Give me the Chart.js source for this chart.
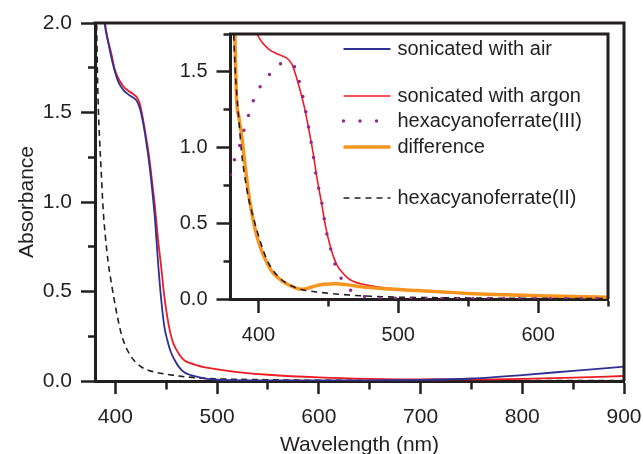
<!DOCTYPE html>
<html>
<head>
<meta charset="utf-8">
<script src="https://cdn.jsdelivr.net/npm/chart.js@4.4.1/dist/chart.umd.min.js"></script>
<style>
    body { margin: 0; background: #fff; }
    #wrap { position: relative; width: 643px; height: 454px; overflow: hidden; }
    #main { position: absolute; left: 0; top: 0; }
    #inset { position: absolute; left: 150px; top: 19px; }
</style>
</head>
<body>
<div id="wrap">
    <canvas id="main" width="643" height="454"></canvas>
    <canvas id="inset" width="480" height="330"></canvas>
</div>
<script>
// spectra (wavelength nm / absorbance)
const airWl = [386, 389.5, 393, 396, 399, 403, 408, 413, 417, 421, 424, 427, 430, 433, 436, 439, 442, 445, 448, 451, 454, 458, 463, 468, 474, 480, 490, 500, 550, 600, 650, 700, 750, 800, 850, 900];
const airAbs = [2.25, 2.0, 1.89, 1.81, 1.74, 1.67, 1.625, 1.6, 1.585, 1.565, 1.525, 1.45, 1.35, 1.23, 1.08, 0.9, 0.66, 0.46, 0.31, 0.23, 0.17, 0.12, 0.075, 0.048, 0.033, 0.024, 0.012, 0.007, 0.003, 0.003, 0.004, 0.006, 0.014, 0.033, 0.057, 0.08];

const argonWl = [386, 389.8, 393, 396.4, 399, 403, 408, 413, 417, 421, 424, 427, 430, 433, 436, 439, 442, 445, 448, 451, 454, 457, 460, 464, 468, 473, 480, 487, 500, 520, 550, 600, 650, 700, 750, 800, 850, 900];
const argonAbs = [2.25, 2.0, 1.9, 1.82, 1.75, 1.69, 1.645, 1.62, 1.605, 1.585, 1.55, 1.47, 1.37, 1.26, 1.12, 0.97, 0.79, 0.64, 0.48, 0.36, 0.27, 0.21, 0.175, 0.138, 0.115, 0.101, 0.088, 0.077, 0.065, 0.05, 0.035, 0.02, 0.012, 0.009, 0.009, 0.012, 0.019, 0.028];

const ferroWl = [380, 381.6, 382.3, 383.3, 384.5, 386, 388, 390, 393, 396, 399, 402, 406, 410, 415, 420, 426, 433, 440, 450, 465, 480, 500, 550, 600, 700, 800, 900];
const ferroAbs = [2.4, 2.0, 1.75, 1.52, 1.35, 1.18, 0.96, 0.82, 0.66, 0.55, 0.45, 0.36, 0.26, 0.195, 0.14, 0.105, 0.077, 0.058, 0.048, 0.038, 0.026, 0.018, 0.012, 0.007, 0.004, 0.003, 0.003, 0.003];

const ferriWl = [380, 382, 386, 389, 392.2, 395.7, 400.3, 404, 407.7, 412, 416, 420, 424.8, 427, 428.8, 431.4, 433.6, 435.7, 437.6, 439.3, 441, 443, 445.3, 447, 448.8, 451.7, 454.8, 459.6, 467.4, 478.6, 490, 520, 650];
const ferriAbs = [0.82, 0.896, 0.997, 1.094, 1.19, 1.295, 1.387, 1.44, 1.48, 1.525, 1.554, 1.56, 1.545, 1.51, 1.45, 1.354, 1.25, 1.145, 1.04, 0.94, 0.83, 0.735, 0.636, 0.533, 0.434, 0.328, 0.229, 0.13, 0.046, 0.013, 0.006, 0.004, 0.004];

const diffWl = [383, 384.3, 386, 388, 390, 392.6, 395, 397.4, 401, 404.5, 409, 414, 420, 426, 431, 435, 440, 447, 455, 463, 474, 490, 514, 550, 600, 650];
const diffAbs = [1.8, 1.33, 1.2, 1.08, 0.92, 0.72, 0.58, 0.47, 0.35, 0.27, 0.19, 0.14, 0.1, 0.075, 0.064, 0.07, 0.085, 0.097, 0.101, 0.095, 0.08, 0.068, 0.056, 0.037, 0.022, 0.012];

// tick positions: every value gets a tick mark, the listed majors get a label
const mainXTicks = [400, 450, 500, 550, 600, 650, 700, 750, 800, 850, 900];
const mainXLabels = [400, 500, 600, 700, 800, 900];
const mainYLabels = [0, 0.5, 1.0, 1.5, 2.0];
const insetXTicks = [400, 450, 500, 550, 600, 650];
const insetXLabels = [400, 500, 600];
const insetYLabels = [0, 0.5, 1.0, 1.5];

const labelAir = 'sonicated with air';
const labelArgon = 'sonicated with argon';
const labelFerri = 'hexacyanoferrate(III)';
const labelDiff = 'difference';
const labelFerro = 'hexacyanoferrate(II)';

const ink = '#231f20';
const airColor = '#2e3192';
const argonColor = '#ed1c24';
const ferriColor = '#92278f';
const diffColor = '#f7941d';
const font = "'Liberation Sans', Arial, sans-serif";

const pts = (xs, ys) => xs.map((x, i) => ({ x: x, y: ys[i] }));
const isMajor = (v, list) => list.some(t => Math.abs(t - v) < 1e-6);

function frame(id) {
    return {
        id: id,
        afterDraw(chart) {
            const a = chart.chartArea;
            const ctx = chart.ctx;
            ctx.save();
            ctx.strokeStyle = ink;
            ctx.lineWidth = 3;
            ctx.beginPath();
            ctx.moveTo(a.left - 1.5, a.top);
            ctx.lineTo(a.right, a.top);
            ctx.lineTo(a.right, a.bottom);
            ctx.stroke();
            ctx.restore();
        }
    };
}

function axisX(min, max, tickVals, majors, fontSize, height, tickLen, minorLen, pad, title) {
    return {
        type: 'linear', min: min, max: max,
        afterBuildTicks: axis => { axis.ticks = tickVals.map(v => ({ value: v })); },
        afterFit: scale => { scale.height = height; scale.paddingLeft = 0; scale.paddingRight = 0; },
        border: { display: true, color: ink, width: 3 },
        grid: {
            drawOnChartArea: false, drawTicks: true, tickLength: tickLen, tickWidth: 2.5, tickColor: ink,
            tickBorderDash: ctx => (ctx.tick && isMajor(ctx.tick.value, majors)) ? [] : [minorLen, 100]
        },
        ticks: {
            autoSkip: false, maxRotation: 0, padding: pad, color: ink,
            font: { family: font, size: fontSize, lineHeight: 1.2 },
            callback: v => isMajor(v, majors) ? String(v) : ''
        },
        title: title ? {
            display: true, text: title, color: ink,
            font: { family: font, size: fontSize, lineHeight: 1.2 },
            padding: { top: 0, bottom: -4 }
        } : { display: false }
    };
}

function axisY(max, majors, fontSize, width, tickLen, minorLen, pad, title) {
    return {
        type: 'linear', min: 0, max: max,
        afterFit: scale => { scale.width = width; scale.paddingTop = 0; scale.paddingBottom = 0; },
        border: { display: true, color: ink, width: 3 },
        grid: {
            drawOnChartArea: false, drawTicks: true, tickLength: tickLen, tickWidth: 2.5, tickColor: ink,
            tickBorderDash: ctx => (ctx.tick && isMajor(ctx.tick.value, majors)) ? [] : [0, tickLen - minorLen, minorLen + 2, 100]
        },
        ticks: {
            stepSize: 0.25, autoSkip: false, padding: pad, color: ink,
            font: { family: font, size: fontSize, lineHeight: 1.2 },
            callback: v => isMajor(v, majors) ? v.toFixed(1) : ''
        },
        title: title ? {
            display: true, text: title, color: ink,
            font: { family: font, size: fontSize, lineHeight: 1.2 },
            padding: { top: 15, bottom: 0 }
        } : { display: false }
    };
}

const lineBase = { pointRadius: 0, cubicInterpolationMode: 'monotone', fill: false };

new Chart(document.getElementById('main'), {
    type: 'line',
    data: {
        datasets: [
            Object.assign({ label: labelAir, data: pts(airWl, airAbs), borderColor: airColor, borderWidth: 1.8 }, lineBase),
            Object.assign({ label: labelArgon, data: pts(argonWl, argonAbs), borderColor: argonColor, borderWidth: 1.8 }, lineBase),
            Object.assign({ label: labelFerro, data: pts(ferroWl, ferroAbs), borderColor: ink, borderWidth: 1.6, borderDash: [6, 4.5] }, lineBase)
        ]
    },
    options: {
        responsive: false,
        animation: false,
        layout: { padding: { left: 0, top: 23, right: 19, bottom: 0 } },
        plugins: { legend: { display: false }, tooltip: { enabled: false } },
        scales: {
            x: axisX(380, 900, mainXTicks, mainXLabels, 21, 73, 13, 6.5, 11, 'Wavelength (nm)'),
            y: axisY(2, mainYLabels, 21, 95, 14, 7, 9, 'Absorbance')
        }
    },
    plugins: [frame('mainFrame')]
});

const insetLegend = [
    { text: labelAir, color: airColor, width: 2, dash: [], cap: 'butt', dy: 15 },
    { text: labelArgon, color: argonColor, width: 1.6, dash: [], cap: 'butt', dy: 62 },
    { text: labelFerri, color: ferriColor, width: 3.5, dash: [0, 16.5], cap: 'round', dy: 87 },
    { text: labelDiff, color: diffColor, width: 3.5, dash: [], cap: 'butt', dy: 113 },
    { text: labelFerro, color: ink, width: 1.6, dash: [6, 5], cap: 'butt', dy: 164 }
];

const legendPlugin = {
    id: 'insetLegend',
    afterDraw(chart) {
        const a = chart.chartArea;
        const ctx = chart.ctx;
        ctx.save();
        insetLegend.forEach(item => {
            const y = a.top + item.dy;
            ctx.beginPath();
            ctx.strokeStyle = item.color;
            ctx.lineWidth = item.width;
            ctx.lineCap = item.cap;
            ctx.setLineDash(item.dash);
            ctx.moveTo(a.left + 113, y);
            ctx.lineTo(a.left + 160, y);
            ctx.stroke();
            ctx.setLineDash([]);
            ctx.fillStyle = ink;
            ctx.font = '20px ' + font;
            ctx.textBaseline = 'middle';
            ctx.textAlign = 'left';
            ctx.fillText(item.text, a.left + 167, y);
        });
        ctx.restore();
    }
};

new Chart(document.getElementById('inset'), {
    type: 'line',
    data: {
        datasets: [
            Object.assign({ label: labelFerri, data: pts(ferriWl, ferriAbs), borderColor: ferriColor, borderWidth: 3.5, borderDash: [0, 15.5], borderCapStyle: 'round' }, lineBase),
            Object.assign({ label: labelFerro, data: pts(ferroWl, ferroAbs), borderColor: ink, borderWidth: 1.6, borderDash: [6, 5] }, lineBase),
            Object.assign({ label: labelDiff, data: pts(diffWl, diffAbs), borderColor: diffColor, borderWidth: 3.5 }, lineBase),
            Object.assign({ label: labelArgon, data: pts(argonWl, argonAbs), borderColor: argonColor, borderWidth: 1.6 }, lineBase)
        ]
    },
    options: {
        responsive: false,
        animation: false,
        layout: { padding: { left: 0, top: 15, right: 22, bottom: 0 } },
        plugins: { legend: { display: false }, tooltip: { enabled: false } },
        scales: {
            x: axisX(380, 650, insetXTicks, insetXLabels, 20, 50, 14, 5.5, 10, null),
            y: axisY(1.75, insetYLabels, 20, 80.5, 14, 7, 9, null)
        }
    },
    plugins: [frame('insetFrame'), legendPlugin]
});
</script>
</body>
</html>
